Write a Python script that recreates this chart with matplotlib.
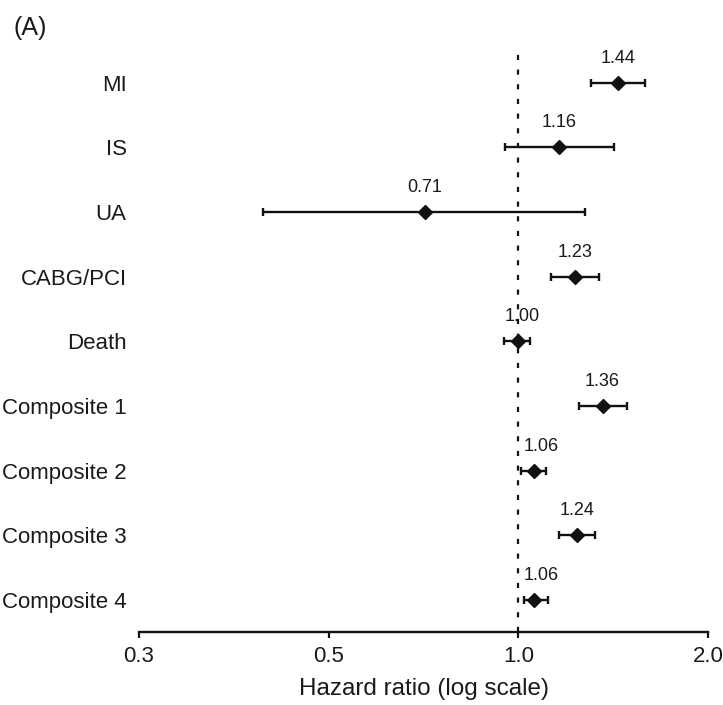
import matplotlib
matplotlib.use("Agg")
import matplotlib.pyplot as plt
import numpy as np

plt.rcParams["font.family"] = ["Liberation Sans", "DejaVu Sans"]

# outcomes, top to bottom
outcomes = ["MI", "IS", "UA", "CABG/PCI", "Death",
            "Composite 1", "Composite 2", "Composite 3", "Composite 4"]
hr = [1.44, 1.16, 0.71, 1.23, 1.00, 1.36, 1.06, 1.24, 1.06]
ci_low = [1.305, 0.951, 0.393, 1.128, 0.950, 1.249, 1.011, 1.161, 1.022]
ci_high = [1.589, 1.416, 1.277, 1.344, 1.045, 1.490, 1.106, 1.324, 1.116]
hr_labels = ["1.44", "1.16", "0.71", "1.23", "1.00", "1.36", "1.06", "1.24", "1.06"]

tick_vals = [0.25, 0.5, 1.0, 2.0]
tick_labels = ["0.3", "0.5", "1.0", "2.0"]

fig = plt.figure(figsize=(7.23, 7.05), dpi=100)
ax = fig.add_axes([0.1923, 0.1035, 0.787, 0.8213])

n = len(outcomes)
y = np.arange(n)[::-1]
hr_a = np.array(hr)
err = [hr_a - np.array(ci_low), np.array(ci_high) - hr_a]

ax.set_xscale("log")
ax.set_xlim(0.25, 2.0)
ax.set_ylim(-0.495, n - 1 + 0.46)

# reference line at HR = 1
ax.plot([1.0, 1.0], [-0.495, n - 1 + 0.46], color="#111111", lw=1.6,
        ls=(0, (2.3, 4.3)), zorder=1, clip_on=False)

ax.errorbar(hr, y, xerr=err, fmt="D", color="#111111", ms=7.5,
            ecolor="#111111", elinewidth=1.7, capsize=3, capthick=1.7,
            zorder=3)

for xi, yi, lab in zip(hr, y, hr_labels):
    # nudge labels sitting on the reference line a little to the right
    dx = 0
    if abs(np.log10(xi)) < 0.001:
        dx = 3
    elif abs(np.log10(xi)) < 0.03:
        dx = 5
    ax.annotate(lab, (xi, yi), xytext=(dx, 14.5), textcoords="offset points",
                ha="center", va="baseline", fontsize=13, color="#1a1a1a")

ax.set_yticks(y)
ax.set_yticklabels(outcomes, fontsize=16, color="#1a1a1a")
ax.tick_params(axis="y", length=0, pad=9)

ax.set_xticks(tick_vals)
ax.set_xticklabels(tick_labels, fontsize=16, color="#1a1a1a")
ax.xaxis.set_minor_locator(matplotlib.ticker.NullLocator())
ax.tick_params(axis="x", direction="out", length=4.5, width=1.6, pad=5.5,
               color="#111111")
ax.set_xlabel("Hazard ratio (log scale)", fontsize=17.5, color="#1a1a1a",
              labelpad=8)

for s in ["top", "right", "left"]:
    ax.spines[s].set_visible(False)
ax.spines["bottom"].set_linewidth(1.7)
ax.spines["bottom"].set_color("#111111")

fig.text(0.018, 0.978, "(A)", fontsize=18, color="#1a1a1a", va="top", ha="left")

fig.savefig("out.png", dpi=100)
